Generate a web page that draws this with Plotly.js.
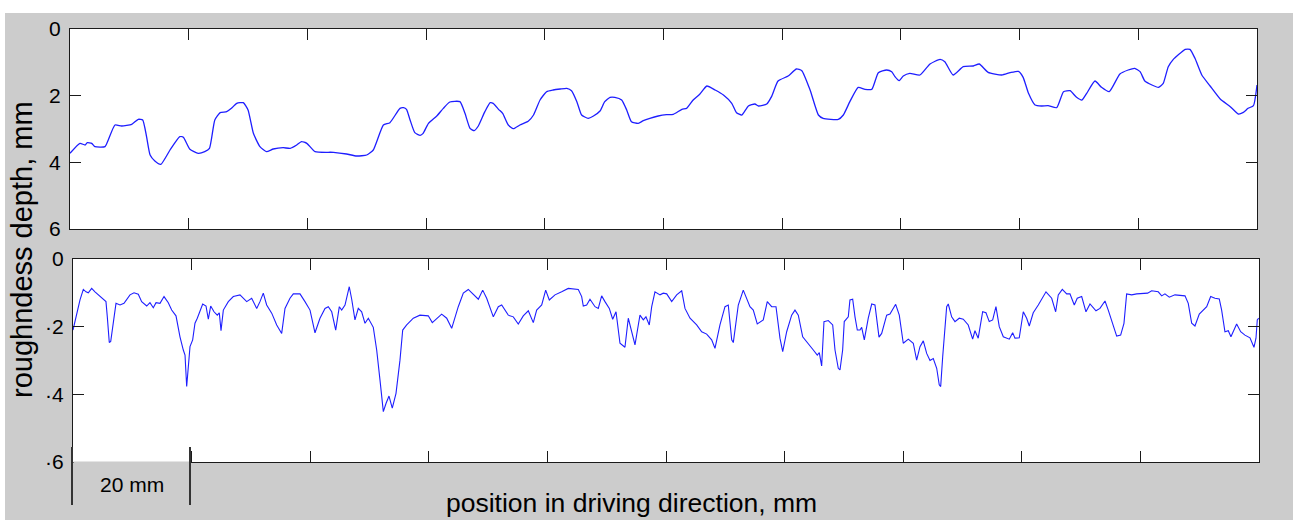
<!DOCTYPE html>
<html>
<head>
<meta charset="utf-8">
<script src="https://cdn.plot.ly/plotly-3.0.1.min.js"></script>
<style>html,body{margin:0;padding:0;background:#fff;}#chart{width:1293px;height:520px;}</style>
</head>
<body>
<div id="chart"></div>
<script>
// ---- data (mm) ----
const topX = [0,1.68,2.53,2.91,3.66,4.21,5.9,6.45,7.58,8.71,10.4,11.5,12.25,12.9,13.5,14.3,15.3,16.85,18.5,19.1,20.2,21.6,22.7,23.5,24.4,25.3,26.4,27.2,28.1,29.2,30.0,30.9,32.0,33.1,34.25,35.9,37.1,38.2,39.0,39.9,41.3,44.4,46.6,48.3,50.0,51.1,52.8,53.9,55.6,56.2,56.7,57.3,58.1,59.0,59.5,60.4,61.8,62.9,64.0,65.7,66.55,67.4,68.1,68.8,69.9,70.8,71.3,72.2,72.9,73.85,74.7,75.8,77.2,78.1,79.2,80.3,81.4,82.6,83.7,84.5,85.4,86.2,87.3,88.2,89.3,90.1,91.0,91.8,92.95,93.8,94.6,95.75,96.6,97.7,99.1,100.5,101.65,103.1,103.9,105.0,106.1,107.3,108.7,110.1,111.5,112.3,113.2,114.3,115.4,116.0,117.4,118.2,119.3,121.0,122.4,123.3,124.7,126.1,126.9,129.45,130.3,131.4,132.8,133.95,135.1,136.2,137.6,138.45,139.0,139.7,140.4,141.5,143.2,144.9,146.6,147.4,148.8,150.5,152.2,153.2,154.7,157.0,158.4,159.8,160.6,161.5,162.6,163.7,164.8,166.25,167.4,168.5,169.6,170.5,171.3,172.7,173.8,175.1,176.9,178.3,179.4,180.3,181.1,182.3,183.4,184.2,185.05,185.9,186.7,187.9,188.7,189.55,190.7,192.1,193.8,195.5,196.85,197.7,198.5,199.4,200];
const topDepth = [3.73,3.43,3.48,3.41,3.43,3.53,3.53,3.33,2.88,2.91,2.86,2.71,2.73,3.23,3.78,3.96,4.06,3.63,3.23,3.25,3.61,3.73,3.68,3.58,2.73,2.51,2.48,2.38,2.23,2.21,2.43,3.13,3.53,3.68,3.6,3.56,3.58,3.48,3.38,3.43,3.68,3.7,3.75,3.81,3.78,3.63,2.88,2.81,2.38,2.36,2.41,2.73,3.11,3.19,3.13,2.83,2.61,2.38,2.19,2.18,2.53,2.98,3.05,2.91,2.48,2.21,2.23,2.41,2.53,2.88,2.99,2.88,2.77,2.58,2.13,1.88,1.83,1.8,1.78,1.85,2.18,2.58,2.68,2.61,2.46,2.18,2.05,2.05,2.13,2.43,2.78,2.83,2.75,2.68,2.61,2.57,2.56,2.41,2.38,2.13,1.96,1.71,1.83,1.98,2.23,2.51,2.58,2.31,2.25,2.31,2.25,2.03,1.56,1.41,1.2,1.25,1.83,2.58,2.68,2.71,2.58,2.18,1.75,1.81,1.81,1.31,1.23,1.28,1.43,1.55,1.41,1.33,1.38,1.05,0.91,0.98,1.38,1.13,1.11,1.05,1.3,1.38,1.31,1.27,1.45,1.93,2.28,2.31,2.3,2.36,1.88,1.85,2.05,2.13,1.93,1.56,1.75,1.88,1.35,1.23,1.18,1.28,1.56,1.68,1.75,1.63,1.13,0.91,0.78,0.61,0.61,0.88,1.38,1.71,2.1,2.33,2.55,2.5,2.38,2.3,1.68];

const bottomX = [0,0.62,1.18,1.74,2.19,2.58,3.15,3.71,4.55,5.23,5.56,5.78,6.12,6.36,6.8,7.25,7.93,8.6,9.61,10.29,11.01,11.58,12.43,12.98,13.54,14.0,14.67,15.35,16.07,16.64,17.37,18.04,18.6,18.89,19.17,19.44,19.73,20.18,20.57,20.96,21.42,21.87,22.43,22.82,23.22,23.78,24.33,24.67,24.96,25.35,26.19,27.03,28.16,29.29,30.13,30.98,31.53,32.09,32.66,33.51,34.35,35.19,35.75,36.59,37.15,38.28,39.12,39.97,40.81,41.65,42.5,43.05,43.63,44.3,44.91,45.31,45.87,46.59,47.0,47.55,48.11,48.68,49.24,49.8,50.64,51.21,51.77,52.33,52.78,53.29,53.84,54.47,55.14,55.6,56.27,57.39,58.51,59.91,60.59,61.33,62.17,63.02,63.86,64.97,65.82,66.66,67.5,68.35,69.09,69.76,70.88,71.72,72.29,73.4,74.25,75.09,75.93,76.78,77.62,78.19,79.04,79.71,80.32,81.28,82.41,83.52,85.21,85.78,86.05,86.62,87.18,88.03,88.58,89.15,89.71,90.44,91.01,91.57,92.24,93.08,93.64,94.21,94.77,95.33,95.61,96.17,96.62,97.18,97.59,98.14,98.99,99.54,100.12,100.96,101.8,102.65,103.2,104.05,105.17,106.02,106.86,107.7,108.26,109.1,109.95,110.5,111.08,111.35,112.19,113.03,114.16,114.72,115.39,116.4,117.08,117.82,118.55,119.22,119.68,120.35,121.19,121.75,122.31,123.05,123.99,124.84,125.51,125.85,126.25,126.64,127.37,128.11,128.5,129.05,129.34,129.79,130.06,130.74,131.02,131.48,131.87,132.26,132.71,133.0,133.44,134.11,134.69,135.24,135.92,136.37,137.21,137.77,138.73,139.34,140.01,140.86,141.7,142.27,142.83,143.39,143.96,144.52,145.07,145.65,146.08,146.32,146.66,146.93,147.33,147.6,148.17,148.73,149.45,150.13,150.97,151.71,152.1,152.65,153.4,153.96,154.51,155.09,155.64,156.2,156.88,157.89,158.46,158.85,159.57,160.25,160.82,161.26,161.93,162.78,164.08,165.04,165.71,166.15,166.83,167.57,168.12,168.85,169.35,170.1,170.82,171.5,172.51,173.18,174.03,174.58,175.16,176.0,176.67,177.23,177.68,178.53,179.37,180.48,181.22,181.9,183.01,183.59,184.14,184.87,185.83,187.52,188.07,188.65,189.2,189.93,190.6,191.18,191.85,192.58,193.3,193.7,194.26,194.82,195.27,196.23,196.91,197.63,198.48,199.15,199.49,199.71,199.95];
const bottomDepth = [2.1,1.6,1.21,0.9,0.97,1.0,0.87,0.97,1.11,1.21,1.26,1.7,2.47,2.44,1.9,1.31,1.36,1.31,1.06,1.0,1.04,1.26,1.39,1.29,1.44,1.29,1.31,1.11,1.29,1.51,1.68,2.3,2.69,2.84,3.77,3.28,2.59,2.39,1.9,1.75,1.56,1.33,1.39,1.78,1.39,1.56,1.66,1.59,2.12,1.51,1.26,1.11,1.06,1.26,1.16,1.46,1.26,1.01,1.36,1.6,1.95,2.2,1.46,1.16,1.03,1.03,1.26,1.51,2.18,1.75,1.46,1.41,1.56,2.1,1.41,1.51,1.36,0.82,1.19,1.8,1.46,1.56,1.9,1.75,2.02,2.69,3.58,4.51,4.27,4.05,4.41,3.97,2.99,2.1,1.95,1.75,1.66,1.68,1.88,1.75,1.63,1.75,2.05,1.41,1.01,0.9,1.03,1.19,0.92,1.16,1.71,1.41,1.36,1.66,1.71,1.92,1.68,1.53,1.88,1.51,1.36,0.92,1.21,1.06,0.97,0.87,0.9,1.11,1.39,1.36,1.19,1.41,1.46,1.09,1.26,1.46,1.78,1.56,2.49,2.61,1.75,2.2,2.54,1.95,1.66,1.8,1.71,1.95,1.41,0.97,1.06,1.01,1.03,1.26,1.06,0.94,1.46,1.75,1.95,2.15,2.22,2.39,2.64,1.95,1.41,1.36,2.39,2.47,1.36,0.92,1.41,1.51,1.92,1.8,1.26,1.41,1.41,2.34,2.74,2.15,1.66,1.51,1.66,2.3,2.49,2.69,2.84,2.77,3.16,1.85,1.82,1.95,2.69,3.23,3.28,2.69,1.85,1.71,1.21,1.19,1.71,2.1,2.1,2.02,2.39,1.75,1.33,1.36,2.31,2.2,1.66,1.63,1.34,1.66,2.49,2.37,2.49,2.99,2.59,2.42,2.79,3.0,2.94,3.23,3.72,3.77,2.89,2.2,1.41,1.33,1.71,1.85,1.75,1.78,1.95,2.37,2.12,2.34,1.56,1.59,1.85,1.8,1.41,2.0,2.3,2.37,2.18,2.34,2.33,1.56,1.75,1.98,1.59,1.36,0.97,1.16,1.56,1.06,0.9,1.03,1.03,1.36,1.16,1.11,1.56,1.33,1.53,1.46,1.24,1.51,1.85,2.28,2.25,1.9,1.03,1.06,1.03,1.01,1.01,0.94,0.97,1.09,1.03,1.13,1.06,1.09,1.31,1.9,1.98,1.63,1.51,1.41,1.11,1.16,1.18,1.51,2.15,2.12,2.3,1.92,2.15,2.25,2.33,2.61,2.34,1.8,1.75];

const yTickVals = [0, 2, 4, 6];
const topTickText = ['0', '2', '4', '6'];
const bottomTickText = ['0', '·2', '·4', '·6'];
const xTickVals = [20, 40, 60, 80, 100, 120, 140, 160, 180];
const yTitle = 'roughndess depth, mm';
const xTitle = 'position in driving direction, mm';
const scaleLabel = '20 mm';

// ---- layout helpers (pixel -> paper) ----
const W = 1293, H = 520;
const px = v => v / W;
const py = v => 1 - v / H;

const FONT = 'Liberation Sans, Arial, sans-serif';
const frameColor = '#1a1a1a';

function xAxis(domain, anchor) {
  return {
    domain: domain, anchor: anchor, range: [0, 200], showgrid: false, zeroline: false,
    showline: true, linecolor: frameColor, linewidth: 1, mirror: 'ticks',
    ticks: 'inside', ticklen: 11, tickwidth: 1, tickcolor: frameColor,
    tickvals: xTickVals, showticklabels: false, fixedrange: true
  };
}
function yAxis(domain, anchor, ticktext) {
  return {
    domain: domain, anchor: anchor, range: [6, 0], showgrid: false, zeroline: false,
    showline: true, linecolor: frameColor, linewidth: 1, mirror: 'ticks',
    ticks: 'inside', ticklen: 11, tickwidth: 1, tickcolor: frameColor,
    tickvals: yTickVals, ticktext: ticktext, ticklabelstandoff: 4,
    tickfont: {family: FONT, size: 21, color: '#000'}, fixedrange: true
  };
}

const traces = [
  {x: topX, y: topDepth, xaxis: 'x', yaxis: 'y', type: 'scatter', mode: 'lines',
   line: {color: 'rgb(30,30,255)', width: 1.3, shape: 'spline', smoothing: 0.5}, hoverinfo: 'skip'},
  {x: bottomX, y: bottomDepth, xaxis: 'x2', yaxis: 'y2', type: 'scatter', mode: 'lines',
   line: {color: 'rgb(30,30,255)', width: 1.1}, hoverinfo: 'skip'}
];

const layout = {
  width: W, height: H,
  margin: {l: 0, r: 0, t: 0, b: 0},
  paper_bgcolor: '#cccccc', plot_bgcolor: '#ffffff',
  showlegend: false,
  xaxis: xAxis([px(70), px(1257)], 'y'),
  yaxis: yAxis([py(229), py(29)], 'x', topTickText),
  xaxis2: xAxis([px(73), px(1259)], 'y2'),
  yaxis2: yAxis([py(462), py(259)], 'x2', bottomTickText),
  shapes: [
    // white margins of the original figure
    {type: 'rect', xref: 'paper', yref: 'paper', x0: 0, x1: 1, y0: py(13), y1: 1, fillcolor: '#ffffff', line: {width: 0}, layer: 'below'},
    {type: 'rect', xref: 'paper', yref: 'paper', x0: 0, x1: px(5), y0: 0, y1: 1, fillcolor: '#ffffff', line: {width: 0}, layer: 'below'},
    // scale bar box
    {type: 'rect', xref: 'paper', yref: 'paper', x0: px(73.5), x1: px(190), y0: py(506), y1: py(461.5), fillcolor: '#cccccc', line: {width: 0}, layer: 'above'},
    {type: 'line', xref: 'paper', yref: 'paper', x0: px(72), x1: px(72), y0: py(447), y1: py(505), line: {color: '#333', width: 2}, layer: 'above'},
    {type: 'line', xref: 'paper', yref: 'paper', x0: px(190), x1: px(190), y0: py(447), y1: py(505), line: {color: '#333', width: 2}, layer: 'above'}
  ],
  annotations: [
    {text: scaleLabel, xref: 'paper', yref: 'paper', x: px(132), y: py(484), xanchor: 'center', yanchor: 'middle', showarrow: false, font: {family: FONT, size: 21, color: '#000'}},
    {text: xTitle, xref: 'paper', yref: 'paper', x: px(631), y: py(503), xanchor: 'center', yanchor: 'middle', showarrow: false, font: {family: FONT, size: 26.5, color: '#000'}},
    {text: yTitle, xref: 'paper', yref: 'paper', x: px(22), y: py(250), xanchor: 'center', yanchor: 'middle', textangle: -90, showarrow: false, font: {family: FONT, size: 29, color: '#000'}}
  ]
};

Plotly.newPlot('chart', traces, layout, {displayModeBar: false, staticPlot: true});
</script>
</body>
</html>
